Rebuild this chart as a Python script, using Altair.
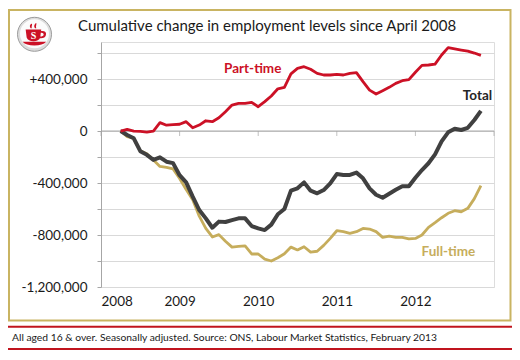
import altair as alt
import pandas as pd

# ---- data (thousands of people, monthly from April 2008) ----
first_year = 2008
first_month = 4
part_time = [0, 13, 0, -3, -8, 0, 65, 45, 50, 52, 72, 25,
             46, 79, 72, 102, 149, 200, 213, 213, 221, 187, 226, 270,
             325, 336, 440, 482, 495, 475, 444, 431, 431, 436, 431, 444,
             449, 380, 315, 285, 310, 336, 367, 387, 395, 452, 505, 508,
             515, 585, 642, 632, 623, 615, 600, 582]
full_time = [0, -44, -56, -152, -175, -222, -272, -280, -292, -365, -450, -528,
             -655, -749, -815, -797, -848, -893, -888, -884, -946, -946, -985, -1000,
             -975, -944, -893, -915, -890, -932, -925, -880, -826, -767, -774, -787,
             -774, -749, -754, -774, -818, -808, -818, -818, -830, -826, -800, -741,
             -705, -667, -633, -613, -621, -595, -520, -420]
total = [0, -31, -56, -155, -183, -222, -202, -236, -247, -340, -395, -505,
         -608, -672, -744, -697, -700, -685, -672, -672, -731, -749, -762, -720,
         -640, -600, -459, -441, -395, -459, -479, -454, -403, -331, -338, -338,
         -320, -364, -441, -490, -513, -482, -452, -425, -425, -360, -300, -248,
         -180, -80, -10, 18, 8, 25, 85, 155]
series_names = ["Full-time", "Total", "Part-time"]
series_colors = ["#c6ad5c", "#404040", "#cc1126"]
year_ticks = [2008, 2009, 2010, 2011, 2012, 2013]
year_labels = [2008, 2009, 2010, 2011, 2012]
y_ticks = [-1200000, -1000000, -800000, -600000, -400000, -200000, 0, 200000, 400000, 600000]
annotations = [
    {"t": 2009.93, "v": 477000, "label": "Part-time", "c": "#cc1126"},
    {"t": 2012.79, "v": 269000, "label": "Total", "c": "#262626"},
    {"t": 2012.42, "v": -927000, "label": "Full-time", "c": "#c6ad5c"},
]
title_text = "Cumulative change in employment levels since April 2008"
footer_text = "All aged 16 & over. Seasonally adjusted. Source: ONS, Labour Market Statistics, February 2013"


def frame(name, vals):
    return pd.DataFrame({
        "t": [first_year + (first_month - 1 + i) / 12 for i in range(len(vals))],
        "v": [v * 1000 for v in vals],
        "series": name,
    })


df = pd.concat([frame("Full-time", full_time), frame("Total", total),
                frame("Part-time", part_time)], ignore_index=True)
ticks_df = pd.DataFrame({"t": year_ticks, "v": [0] * len(year_ticks)})
zero_df = pd.DataFrame({"v": [0]})
ann_df = pd.DataFrame(annotations)
one = pd.DataFrame({"k": [0]})

W, H = 393, 245
FONT = "Lato"
xs = alt.Scale(domain=[2008, 2013], nice=False, zero=False)
ys = alt.Scale(domain=[-1200000, 685000], nice=False, zero=False)

x_axis = alt.Axis(values=year_labels, format="d", domain=False, ticks=False, grid=False,
                  labelPadding=7, title=None, labelFontSize=13.5, labelFont=FONT,
                  labelColor="#1a1a1a", labelFontWeight="normal")
y_axis = alt.Axis(values=y_ticks, tickSize=4, tickColor="#a6a6a6", domainColor="#a6a6a6",
                  grid=True, gridColor="#d9d9d9", labelPadding=10, title=None,
                  labelFontSize=13.5, labelFont=FONT, labelColor="#1a1a1a",
                  labelExpr="datum.value % 400000 === 0 ? (datum.value > 0 ? '+' + format(datum.value, ',') : (datum.value < 0 ? '-' + format(-datum.value, ',') : '0')) : ''")


def X():
    return alt.X("t:Q", scale=xs, axis=x_axis)


def Y():
    return alt.Y("v:Q", scale=ys, axis=y_axis)


layers = []

# zero line and year ticks
layers.append(alt.Chart(zero_df).mark_rule(color="#a6a6a6", strokeWidth=1).encode(
    x=alt.value(0), x2=alt.value(W), y=Y()))
layers.append(alt.Chart(ticks_df).mark_tick(orient="vertical", size=5, thickness=1,
                                            color="#a6a6a6", yOffset=2.5).encode(x=X(), y=Y()))

widths = {"Full-time": 2.8, "Total": 4, "Part-time": 2.8}
for name, col in zip(series_names, series_colors):
    layers.append(alt.Chart(df).transform_filter(alt.datum.series == name).mark_line(
        color=col, strokeWidth=widths[name], strokeJoin="round").encode(x=X(), y=Y()))

layers.append(alt.Chart(ann_df).mark_text(font=FONT, fontSize=13.5, fontWeight="bold",
                                          align="center", baseline="middle").encode(
    x=X(), y=Y(), text="label:N", color=alt.Color("c:N", scale=None)))

# frame, title, logo, footer
layers.append(alt.Chart(one).mark_rect(fill="transparent", stroke="#c9b462", strokeWidth=2).encode(
    x=alt.value(-92), x2=alt.value(409.5), y=alt.value(-32), y2=alt.value(278.5)))
layers.append(alt.Chart(one).mark_text(text=title_text, font=FONT, fontSize=15, align="left",
                                       baseline="middle", color="#1a1a1a").encode(
    x=alt.value(-23), y=alt.value(-16)))
layers.append(alt.Chart(one).mark_rule(color="#c0141e", strokeWidth=2).encode(
    x=alt.value(-93), x2=alt.value(412), y=alt.value(284.7)))
layers.append(alt.Chart(one).mark_rule(color="#c0141e", strokeWidth=2).encode(
    x=alt.value(-93), x2=alt.value(412), y=alt.value(307)))
layers.append(alt.Chart(one).mark_text(text=footer_text, font=FONT, fontSize=10.3, align="left",
                                       baseline="middle", color="#1a1a1a").encode(
    x=alt.value(-89), y=alt.value(296)))

# logo: grey button disk with a red cup
layers.append(alt.Chart(one).mark_arc(radius=17, theta=0, theta2=6.2832, fill="#dcdcdc",
                                      stroke="#9c9c9c", strokeWidth=1).encode(
    x=alt.value(-66.5), y=alt.value(-7.7)))
layers.append(alt.Chart(one).mark_arc(radius=14.5, theta=0, theta2=6.2832, fill="#fbfbfb").encode(
    x=alt.value(-66.5), y=alt.value(-8.2)))
cup = ("M -0.75 -0.45 L 0.5 -0.45 L 0.42 0.2 Q 0.3 0.5 -0.12 0.5 Q -0.55 0.5 -0.67 0.2 Z "
       "M 0.45 -0.32 Q 0.95 -0.38 0.88 0 Q 0.8 0.3 0.36 0.25 L 0.4 0.12 Q 0.68 0.12 0.7 -0.05 "
       "Q 0.7 -0.2 0.47 -0.18 Z "
       "M -1 0.55 L 0.9 0.55 Q 0.62 0.85 -0.05 0.85 Q -0.72 0.85 -1 0.55 Z "
       "M -0.35 -0.55 Q -0.5 -0.75 -0.3 -0.9 Q -0.2 -0.95 -0.25 -0.75 Q -0.3 -0.65 -0.25 -0.55 Z "
       "M 0.0 -0.55 Q -0.15 -0.75 0.05 -0.95 Q 0.15 -1 0.1 -0.8 Q 0.05 -0.7 0.1 -0.55 Z")
layers.append(alt.Chart(one).mark_point(shape=cup, size=620, filled=True, fill="#cc1126",
                                        strokeWidth=0, opacity=1).encode(
    x=alt.value(-66), y=alt.value(-7)))
layers.append(alt.Chart(one).mark_text(text="S", font="Liberation Serif", fontSize=10,
                                       fontWeight="bold", color="white", align="center",
                                       baseline="middle").encode(
    x=alt.value(-67.5), y=alt.value(-6.5)))

chart = alt.layer(*layers).properties(
    width=W, height=H,
    padding={"left": 93, "top": 34, "right": 18, "bottom": 65},
    autosize=alt.AutoSizeParams(type="none"),
).configure_view(stroke="transparent").configure(background="white")

chart.save("out.html", embed_options={"renderer": "svg", "actions": False})
